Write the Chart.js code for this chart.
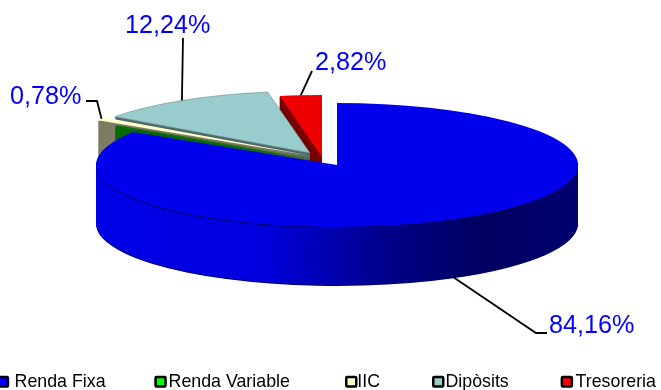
<!DOCTYPE html>
<html>
<head>
<meta charset="utf-8">
<style>
	html, body { margin: 0; padding: 0; background: #fff; overflow: hidden; }
	canvas { display: block; }
</style>
<script src="https://cdn.jsdelivr.net/npm/chart.js@4"></script>
</head>
<body>
<canvas id="pie-chart" width="661" height="390"></canvas>
<script>
const categories = ["Renda Fixa", "Renda Variable", "IIC", "Dipòsits", "Tresoreria"];
const values = [84.16, 0.25, 0.78, 12.24, 2.82];
const valueLabels = ["84,16%", "", "0,78%", "12,24%", "2,82%"];

const faceColors = ["#0000ec", "#0a6a0a", "#ffffcc", "#99cccc", "#ee0000"];
const sideColors = ["#000080", "#0a6a0a", "#7f7d66", "#4f6a6c", "#780000"];
const legendColors = ["#0000ff", "#00ff00", "#ffffcc", "#99cccc", "#ff0000"];

// 3D look: squashed ellipse + extruded slices
const pieCenter = { x: 337, y: 165 };
const pieRadius = 241;
const squash = 0.257;
const depth = 58;
const explode = [[0, 0], [-18, -6], [-25, -9], [-27, -12], [-15, -8]];
const sliceScale = [1, 1, 1.06, 1, 1];

// label placement: text x, baseline y, leader points after the rim point
const labelPos = [
	{ x: 549, y: 333, elbow: [[536, 333], [547, 333]], below: true },
	null,
	{ x: 10, y: 104, elbow: [[97, 101], [86, 101]] },
	{ x: 125, y: 33, elbow: [[183, 38]] },
	{ x: 315, y: 70, elbow: [[312, 71]] },
];
const legendBoxX = [-3.3, 154.3, 345, 432, 560.6];
const legendTextX = [14.6, 168.6, 357.3, 445.5, 575.6];

function sideGradient(ctx, el, i) {
	if (i !== 0) return sideColors[i];
	const g = ctx.createLinearGradient(el.x - pieRadius, 0, el.x + pieRadius, 0);
	g.addColorStop(0, "#0000e6");
	g.addColorStop(0.34, "#0000e0");
	g.addColorStop(0.61, "#000088");
	g.addColorStop(0.8, "#000060");
	g.addColorStop(1, "#000070");
	return g;
}

function drawSlice(ctx, el, i, dy, color, border) {
	const [ex, ey] = explode[i];
	const k = sliceScale[i];
	const saved = el.options;
	ctx.save();
	ctx.translate(pieCenter.x + ex, pieCenter.y + ey + dy);
	ctx.scale(k, squash * k);
	ctx.translate(-el.x, -el.y);
	el.options = { ...saved, backgroundColor: color, borderColor: border || color, borderWidth: border ? 1 : 0 };
	el.draw(ctx);
	el.options = saved;
	ctx.restore();
}

const pie3d = {
	id: "pie3d",
	beforeDatasetsDraw(chart) {
		const { ctx } = chart;
		const arcs = chart.getDatasetMeta(0).data;
		// back slices first, the big one last
		for (let i = arcs.length - 1; i >= 0; i--) {
			const el = arcs[i];
			const side = sideGradient(ctx, el, i);
			if (i === 0) drawSlice(ctx, el, i, depth + 1, "#000060");
			// small steps so the thin slices do not come out striped
			const step = i === 0 ? 1 : 0.2;
			for (let d = depth; d > 1; d -= step) drawSlice(ctx, el, i, d, side);
			// dark seam under the top face
			drawSlice(ctx, el, i, 1, i === 0 ? "#000060" : sideColors[i]);
			drawSlice(ctx, el, i, 0, faceColors[i], i === 3 ? "#6f8f90" : null);
		}
		return false;
	},
	afterDraw(chart) {
		const { ctx } = chart;
		const arcs = chart.getDatasetMeta(0).data;
		ctx.save();
		// leaders and value labels
		ctx.font = "25.2px 'Liberation Sans'";
		arcs.forEach((el, i) => {
			const pos = labelPos[i];
			if (!pos) return;
			const mid = (el.startAngle + el.endAngle) / 2;
			const r = pieRadius * sliceScale[i];
			const sx = pieCenter.x + explode[i][0] + Math.cos(mid) * r;
			const sy = pieCenter.y + explode[i][1] + Math.sin(mid) * r * squash + (pos.below ? depth : 0);
			ctx.strokeStyle = "#000";
			ctx.lineWidth = 1.8;
			ctx.beginPath();
			ctx.moveTo(sx, sy);
			pos.elbow.forEach(([x, y]) => ctx.lineTo(x, y));
			ctx.stroke();
			ctx.fillStyle = "#0000ff";
			ctx.fillText(valueLabels[i], pos.x, pos.y);
		});
		// legend, spacing is tighter than the built in one allows
		ctx.font = "17.8px 'Liberation Sans'";
		categories.forEach((name, i) => {
			ctx.fillStyle = legendColors[i];
			ctx.strokeStyle = "#000";
			ctx.lineWidth = 2.5;
			ctx.beginPath();
			ctx.roundRect(legendBoxX[i] + 1.25, 377, 10, 9.5, 1);
			ctx.fill();
			ctx.stroke();
			ctx.fillStyle = "#000";
			ctx.fillText(name, legendTextX[i], 386.5);
		});
		ctx.restore();
	},
};

new Chart(document.getElementById("pie-chart"), {
	type: "pie",
	data: {
		labels: categories,
		datasets: [{ data: values, backgroundColor: faceColors, borderWidth: 0 }],
	},
	options: {
		responsive: false,
		animation: false,
		radius: pieRadius,
		plugins: {
			legend: { display: false },
			tooltip: { enabled: false },
		},
	},
	plugins: [pie3d],
});
</script>
</body>
</html>
